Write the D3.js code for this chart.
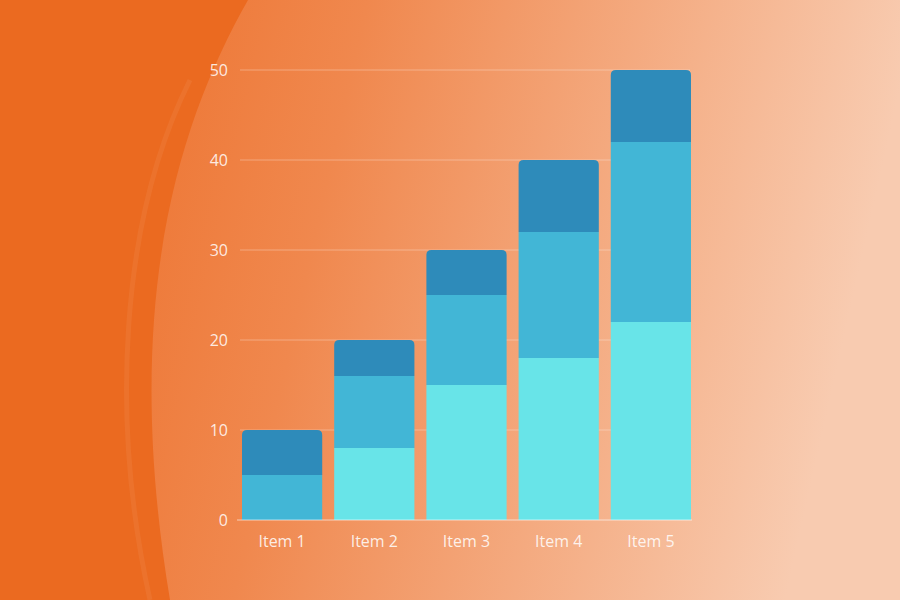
<!DOCTYPE html>
<html>
<head>
<script src="https://cdn.jsdelivr.net/npm/d3@7"></script>
<style>body{margin:0;} svg{display:block;font-family:"Open Sans",sans-serif;}</style>
</head>
<body>
<svg id="chart" width="900" height="600"></svg>
<script>
const items = ['Item 1','Item 2','Item 3','Item 4','Item 5'];
const seriesLow = [0, 8, 15, 18, 22];
const seriesMid = [5, 8, 10, 14, 20];
const seriesTop = [5, 4, 5, 8, 8];
const yTicks = [0, 10, 20, 30, 40, 50];
const colors = ['#68e4e8', '#42b6d6', '#2e8bba'];

const svg = d3.select('#chart');
const defs = svg.append('defs');
const grad = defs.append('linearGradient').attr('id','bg').attr('x1','0').attr('x2','1').attr('y1','0').attr('y2','0.15');
grad.append('stop').attr('offset','0').attr('stop-color','#ec6a22');
grad.append('stop').attr('offset','0.4').attr('stop-color','#f0884e');
grad.append('stop').attr('offset','1').attr('stop-color','#f8cbb0');
svg.append('rect').attr('width',900).attr('height',600).attr('fill','url(#bg)');

// darker left region with curved edge
svg.append('path')
  .attr('d','M0,0 L248,0 C180,120 120,300 170,600 L0,600 Z')
  .attr('fill','#eb6a20');
svg.append('path')
  .attr('d','M190,80 C120,220 110,420 150,600')
  .attr('fill','none').attr('stroke','#f08a50').attr('stroke-width',5).attr('opacity',0.25);

const x = d3.scaleBand().domain(items).range([242, 691]).paddingInner(0.13).paddingOuter(0);
const y = d3.scaleLinear().domain([0, 50]).range([520, 70]);

const g = svg.append('g');
g.selectAll('line.grid').data(yTicks.slice(1)).join('line')
  .attr('x1', 240).attr('x2', 690)
  .attr('y1', d => y(d)).attr('y2', d => y(d))
  .attr('stroke', 'rgba(255,255,255,0.3)').attr('stroke-width', 1);

const stackData = items.map((k, i) => ({item: k, low: seriesLow[i], mid: seriesMid[i], top: seriesTop[i]}));
const stacked = d3.stack().keys(['low','mid','top'])(stackData);

stacked.forEach((layer, li) => {
  g.selectAll(null).data(layer.filter(d => d[1] > d[0])).join('path')
    .attr('fill', colors[li])
    .attr('d', d => {
      const x0 = x(d.data.item), w = x.bandwidth();
      const yt = y(d[1]), yb = y(d[0]);
      const r = li === 2 ? 5 : 0;
      return `M${x0},${yb} L${x0},${yt + r} Q${x0},${yt} ${x0 + r},${yt} L${x0 + w - r},${yt} Q${x0 + w},${yt} ${x0 + w},${yt + r} L${x0 + w},${yb} Z`;
    });
});

g.append('line').attr('x1', 237).attr('x2', 692).attr('y1', y(0)).attr('y2', y(0))
  .attr('stroke', 'rgba(255,255,255,0.6)');

g.selectAll('text.y').data(yTicks).join('text')
  .attr('x', 228).attr('y', d => y(d)).attr('dy', '0.35em')
  .attr('text-anchor', 'end').attr('font-size', 16).attr('fill', 'rgba(255,255,255,0.85)')
  .text(d => d);

g.selectAll('text.x').data(items).join('text')
  .attr('x', d => x(d) + x.bandwidth() / 2).attr('y', 547)
  .attr('text-anchor', 'middle').attr('font-size', 16).attr('fill', 'rgba(255,255,255,0.85)')
  .text(d => d);
</script>
</body>
</html>
